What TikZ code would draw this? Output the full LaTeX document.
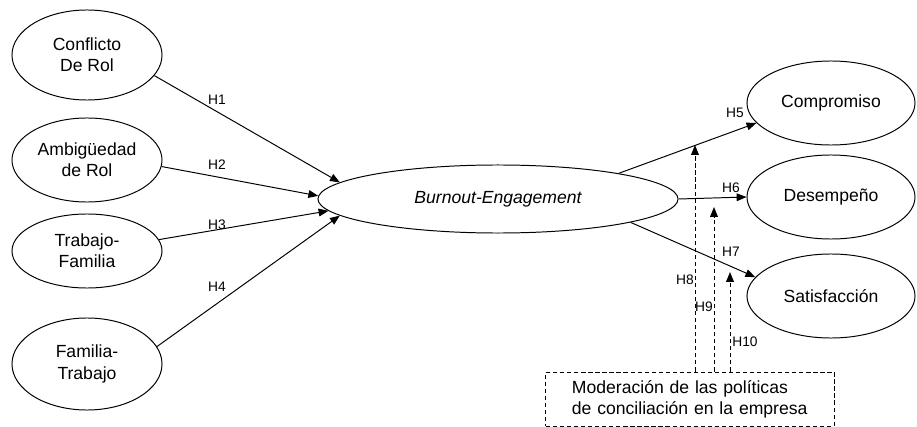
\documentclass[tikz,border=0pt]{standalone}
\usepackage{fontspec}
\setmainfont{Liberation Sans}
\usetikzlibrary{arrows.meta,shapes.geometric}
\tikzset{
  factor/.style={draw,ellipse,inner sep=0pt,align=center,line width=0.7pt,font=\fontsize{12.5}{15}\selectfont},
  leftf/.style={factor,minimum width=3.75cm},
  rightf/.style={factor,minimum width=4.2cm,minimum height=2.1cm},
  arrow/.style={-{Triangle[length=7pt,width=5.5pt]},line width=0.7pt},
  modarrow/.style={arrow,dash pattern=on 3pt off 2pt},
  hyp/.style={font=\fontsize{9.8}{11}\selectfont,inner sep=0pt}
}

\begin{document}
\begin{tikzpicture}[x=0.025cm,y=-0.025cm]
  \useasboundingbox (0,0) rectangle (917,427);
  % antecedentes
  \node[leftf,minimum height=2.25cm] (conf) at (87,55)  {Conflicto\\De Rol};
  \node[leftf,minimum height=2.1cm]  (amb)  at (87,160) {Ambigüedad\\de Rol};
  \node[leftf,minimum height=1.85cm] (trf)  at (87,251) {Trabajo-\\Familia};
  \node[leftf,minimum height=2.3cm]  (frt)  at (87,364) {Familia-\\Trabajo};
  % constructo central
  \node[factor,minimum width=9cm,minimum height=1.7cm,font=\fontsize{12.5}{15}\selectfont\itshape] (be) at (498,199) {Burnout-Engagement};
  % consecuencias
  \node[rightf] (comp) at (831,103) {Compromiso};
  \node[rightf] (des)  at (831,197) {Desempeño};
  \node[rightf] (sat)  at (831,296) {Satisfacción};
  % moderador
  \node[draw,line width=0.7pt,dash pattern=on 3pt off 2pt,minimum width=7.2cm,minimum height=1.35cm,
        inner xsep=0.65cm,text width=5.9cm,align=left,font=\fontsize{12.5}{15}\selectfont] (mod) at (690,399)
        {Moderación de las políticas\\de conciliación en la empresa};

  \draw[arrow] (conf.-17) -- (be.174);
  \draw[arrow] (amb.-5) -- (be.179);
  \draw[arrow] (trf.9) -- (be.184);
  \draw[arrow] (frt.14) -- (be.186);
  \draw[arrow] (be.12) -- (comp.195);
  \draw[arrow] (be.east) -- (des.west);
  \draw[arrow] (be.-10) -- (sat.166);

  \coordinate (t8) at (695,145);
  \coordinate (t9) at (714,207);
  \coordinate (t10) at (730,272);
  \draw[modarrow] (t8 |- mod.north) -- (t8);
  \draw[modarrow] (t9 |- mod.north) -- (t9);
  \draw[modarrow] (t10 |- mod.north) -- (t10);

  % hipotesis
  \node[hyp] (h1) at (217,100) {H1};
  \node[hyp] (h2) at (217,165) {H2};
  \node[hyp] (h3) at (217,225) {H3};
  \node[hyp] (h4) at (217,287) {H4};
  \node[hyp] (h5) at (735,113) {H5};
  \node[hyp] (h6) at (731,188) {H6};
  \node[hyp] (h7) at (731,252) {H7};
  \node[hyp] (h8) at (685,280) {H8};
  \node[hyp] (h9) at (704,307) {H9};
  \node[hyp] (h10) at (745,342) {H10};
\end{tikzpicture}
\end{document}
